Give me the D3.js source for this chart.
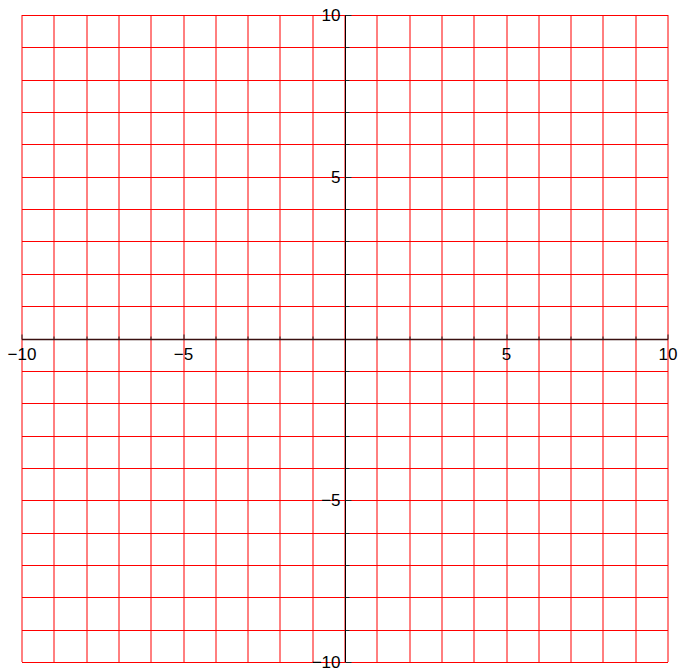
<!DOCTYPE html>
<html>
<head>
<meta charset="utf-8">
<script src="https://cdn.jsdelivr.net/npm/d3@7"></script>
<style>
  body { margin: 0; background: #fff; }
  text { font-family: "Liberation Sans", Arial, sans-serif; }
</style>
</head>
<body>
<div id="chart"></div>
<script>
// grid values and tick labels
var xDomain = [-10, 10];
var yDomain = [-10, 10];
var gridX = d3.range(-10, 11, 1);
var gridY = d3.range(-10, 11, 1);
var majorTicks = [-10, -5, 5, 10];

var width = 680, height = 670;
var plotLeft = 22, plotRight = 668, plotTop = 15, plotBottom = 662;

var svg = d3.select("#chart")
  .append("svg")
    .attr("width", width)
    .attr("height", height);

var x = d3.scaleLinear().domain(xDomain).range([plotLeft, plotRight]);
var y = d3.scaleLinear().domain(yDomain).range([plotBottom, plotTop]);

function fmt(d) { return d < 0 ? "\u2212" + Math.abs(d) : d; }

// grid lines
svg.append("g")
  .selectAll("line")
  .data(gridX)
  .enter()
  .append("line")
    .attr("x1", function(d) { return Math.round(x(d)); })
    .attr("x2", function(d) { return Math.round(x(d)); })
    .attr("y1", y(10))
    .attr("y2", y(-10))
    .attr("stroke", "#ff0000")
    .attr("stroke-width", 1);

svg.append("g")
  .selectAll("line")
  .data(gridY)
  .enter()
  .append("line")
    .attr("x1", x(-10))
    .attr("x2", x(10))
    .attr("y1", function(d) { return Math.round(y(d)) + 0.5; })
    .attr("y2", function(d) { return Math.round(y(d)) + 0.5; })
    .attr("stroke", "#ff0000")
    .attr("stroke-width", 1);

// x axis through origin
var y0 = Math.round(y(0)) + 0.5;
var xAxis = svg.append("g").attr("transform", "translate(0," + y0 + ")");
xAxis.append("line")
  .attr("x1", x(-10)).attr("x2", x(10))
  .attr("stroke", "#3a1010").attr("stroke-width", 1.6);
xAxis.selectAll(".tick")
  .data(gridX.filter(function(d) { return d !== 0; }))
  .enter()
  .append("line")
    .attr("x1", function(d) { return Math.round(x(d)); })
    .attr("x2", function(d) { return Math.round(x(d)); })
    .attr("y1", 0)
    .attr("y2", function(d) { return majorTicks.indexOf(d) >= 0 ? -5 : -3; })
    .attr("stroke", "#222");
xAxis.selectAll("text")
  .data(majorTicks)
  .enter()
  .append("text")
    .attr("x", function(d) { return x(d); })
    .attr("y", 20)
    .attr("text-anchor", "middle")
    .attr("font-size", 17)
    .text(fmt);

// y axis through origin
var x0 = Math.round(x(0)) + 0.5;
var yAxis = svg.append("g").attr("transform", "translate(" + x0 + ",0)");
yAxis.append("line")
  .attr("y1", y(-10)).attr("y2", y(10))
  .attr("stroke", "#000").attr("stroke-width", 1);
yAxis.selectAll(".tick")
  .data(gridY.filter(function(d) { return d !== 0; }))
  .enter()
  .append("line")
    .attr("y1", function(d) { return Math.round(y(d)) + 0.5; })
    .attr("y2", function(d) { return Math.round(y(d)) + 0.5; })
    .attr("x1", 0)
    .attr("x2", function(d) { return majorTicks.indexOf(d) >= 0 ? 6 : 4; })
    .attr("stroke", "#222");
yAxis.selectAll("text")
  .data(majorTicks)
  .enter()
  .append("text")
    .attr("x", -5)
    .attr("y", function(d) { return y(d) + 6; })
    .attr("text-anchor", "end")
    .attr("font-size", 17)
    .text(fmt);
</script>
</body>
</html>
